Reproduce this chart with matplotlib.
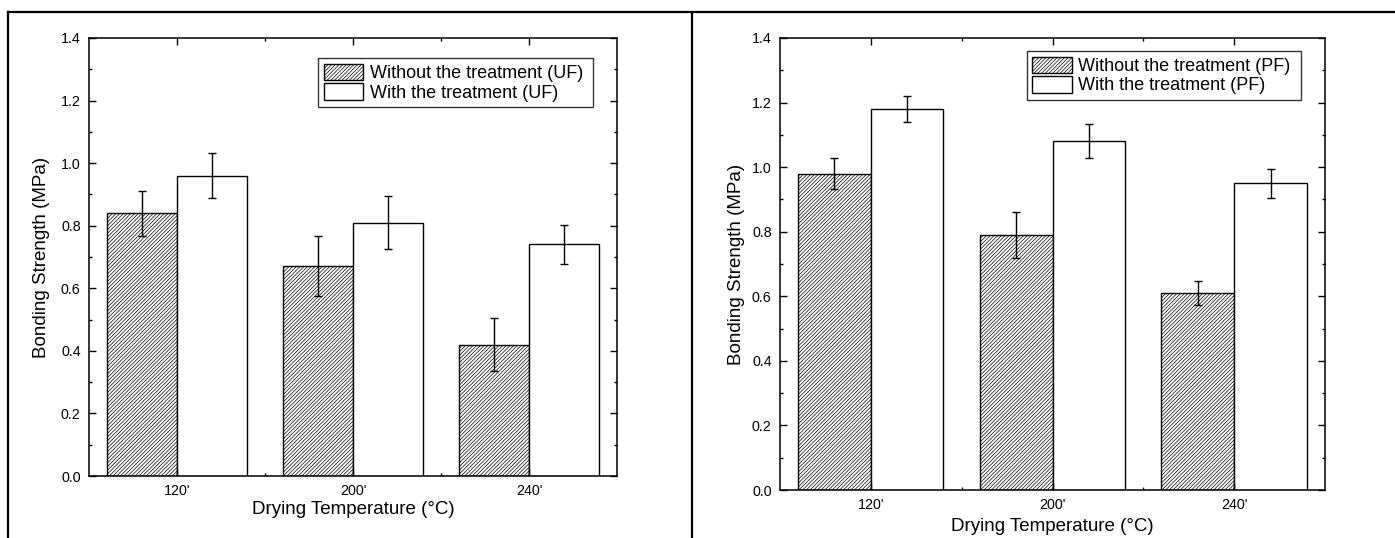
import matplotlib
matplotlib.use('Agg')
import matplotlib.pyplot as plt
from matplotlib.lines import Line2D
from matplotlib.ticker import MultipleLocator
import numpy as np

plt.rcParams['font.family'] = ['Liberation Sans', 'DejaVu Sans']
plt.rcParams['hatch.linewidth'] = 0.5

# ------------------------------------------------------------
# data
# ------------------------------------------------------------
categories = ["120'", "200'", "240'"]

uf_without     = [0.84, 0.67, 0.42]
uf_without_err = [0.072, 0.096, 0.084]
uf_with        = [0.96, 0.81, 0.74]
uf_with_err    = [0.071, 0.084, 0.062]

pf_without     = [0.98, 0.79, 0.61]
pf_without_err = [0.049, 0.072, 0.038]
pf_with        = [1.18, 1.08, 0.95]
pf_with_err    = [0.041, 0.053, 0.045]

W, H = 1395, 538
BAR_W = 0.4


def draw_panel(ax, without, without_err, with_, with_err, tag, leg_anchor):
    x = np.arange(1, len(categories) + 1)
    err_kw = dict(ecolor='black', elinewidth=1.0, capsize=2.8, capthick=1.0)
    b1 = ax.bar(x - BAR_W / 2, without, BAR_W, yerr=without_err,
                color='white', edgecolor='black', linewidth=1.0,
                hatch='/////////', error_kw=err_kw,
                label=f'Without the treatment ({tag})')
    b2 = ax.bar(x + BAR_W / 2, with_, BAR_W, yerr=with_err,
                color='white', edgecolor='black', linewidth=1.0,
                error_kw=err_kw, label=f'With the treatment ({tag})')

    ax.set_xlim(0.5, 3.5)
    ax.set_ylim(0, 1.4)
    ax.set_xticks(x, categories)
    ax.set_xticks([1.5, 2.5], minor=True)
    ax.yaxis.set_major_locator(MultipleLocator(0.2))
    ax.yaxis.set_minor_locator(MultipleLocator(0.1))
    ax.yaxis.set_major_formatter(matplotlib.ticker.FormatStrFormatter('%.1f'))
    ax.tick_params(which='both', direction='in', top=True, right=True,
                   labelsize=10.3, width=1.0)
    ax.tick_params(which='major', length=5, pad=6)
    ax.tick_params(which='minor', length=2.5)
    for s in ax.spines.values():
        s.set_linewidth(1.1)

    ax.set_xlabel('Drying Temperature (°C)', fontsize=13.5)
    ax.set_ylabel('Bonding Strength (MPa)', fontsize=13.5)

    leg = ax.legend([b1, b2], [b1.get_label() + ' ', b2.get_label()],
                    loc='upper right', bbox_to_anchor=leg_anchor,
                    fontsize=13, frameon=True, fancybox=False,
                    framealpha=1, edgecolor='#333333', borderpad=0.3,
                    labelspacing=0.05, handlelength=2.2, handleheight=1.05,
                    handletextpad=0.35, borderaxespad=0)
    leg.get_frame().set_linewidth(1.0)


fig = plt.figure(figsize=(W / 100, H / 100), dpi=100)

ax1 = fig.add_axes([89 / W, 1 - 476 / H, 528 / W, 438 / H])
ax2 = fig.add_axes([780 / W, 1 - 490 / H, 545 / W, 452 / H])

draw_panel(ax1, uf_without, uf_without_err, uf_with, uf_with_err, 'UF',
           (0.955, 0.954))
draw_panel(ax2, pf_without, pf_without_err, pf_with, pf_with_err, 'PF',
           (0.956, 0.971))

ax1.yaxis.set_label_coords(-0.074, 0.5)
ax2.yaxis.set_label_coords(-0.064, 0.5)
ax1.xaxis.set_label_coords(0.5, -0.057)
ax2.xaxis.set_label_coords(0.5, -0.062)

# outer table frame
frame_kw = dict(transform=fig.transFigure, color='black', linewidth=1.6)
fig.add_artist(Line2D([8 / W, 1], [1 - 12 / H, 1 - 12 / H], **frame_kw))
fig.add_artist(Line2D([8 / W, 8 / W], [0, 1 - 12 / H], **frame_kw))
fig.add_artist(Line2D([692 / W, 692 / W], [0, 1 - 12 / H], **frame_kw))

fig.savefig('out.png', dpi=100)
plt.close(fig)
